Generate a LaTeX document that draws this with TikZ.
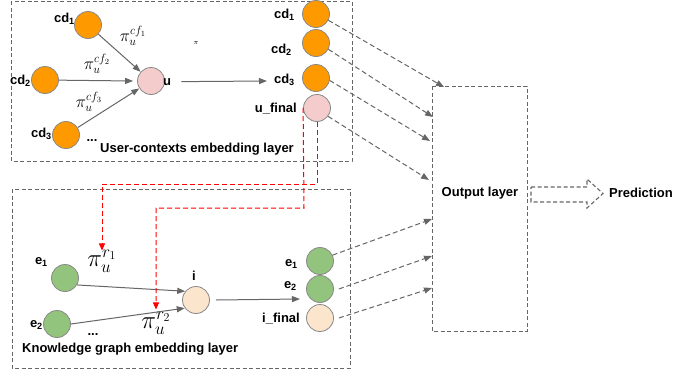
\documentclass[tikz,border=0pt]{standalone}
\usepackage{fontspec}
\setmainfont{Liberation Sans}
\usetikzlibrary{arrows.meta}
\definecolor{orangeF}{HTML}{FF9900}
\definecolor{pinkF}{HTML}{F4CCCC}
\definecolor{greenF}{HTML}{93C47D}
\definecolor{peachF}{HTML}{FCE5CD}
\definecolor{lineG}{HTML}{666666}
\definecolor{strokeG}{HTML}{888888}
\definecolor{redD}{HTML}{FF0000}
\tikzset{
  lab/.style={font=\fontsize{13}{15}\selectfont\bfseries, inner sep=0pt},
  ball/.style={circle, draw=strokeG, line width=0.8pt, minimum size=27pt, inner sep=0pt},
  orangeball/.style={ball, fill=orangeF},
  pinkball/.style={ball, fill=pinkF},
  greenball/.style={ball, fill=greenF},
  peachball/.style={ball, fill=peachF},
  solidarrow/.style={draw=lineG, line width=1pt, -{Triangle[length=8pt,width=6pt]}},
  dasharrow/.style={draw=lineG, line width=1pt, dash pattern=on 5pt off 3pt, -{Triangle[length=8pt,width=6pt]}},
  reddash/.style={draw=redD, line width=1pt, dash pattern=on 5pt off 3pt, -{Triangle[length=7pt,width=6pt]}},
  boxdash/.style={draw=lineG, line width=0.9pt, dash pattern=on 4pt off 2.5pt},
  pilab/.style={inner sep=0pt, font=\fontsize{17}{19}\selectfont},
  pibig/.style={inner sep=0pt, font=\fontsize{24}{27}\selectfont},
}
\begin{document}
\begin{tikzpicture}[x=1pt,y=-1pt]
\useasboundingbox (0,0) rectangle (676,375);
% boxes
\draw[boxdash] (11,1) rectangle (352,161);
\draw[boxdash] (12,189) rectangle (350,368);
\draw[boxdash] (432,86) rectangle (527,331);
\node[lab] (outlab) at (480,193) {Output layer};
\node[lab, anchor=base west] (pred) at (609,197) {Prediction};
\draw[boxdash, line width=1.1pt] (531,187) -- (587,187) -- (587,179) -- (603,193.5) -- (587,208) -- (587,202) -- (531,202) -- cycle;

% top left nodes
\node[orangeball] (lcd1) at (88,25) {};
\node[orangeball] (lcd2) at (45,80) {};
\node[orangeball] (lcd3) at (66,135) {};
\node[pinkball] (u) at (151,81) {};
\node[lab, anchor=base east] (lcd1lab) at (75,22) {cd\textsubscript{1}};
\node[lab, anchor=base east] (lcd2lab) at (31,84) {cd\textsubscript{2}};
\node[lab, anchor=base east] (lcd3lab) at (52,137) {cd\textsubscript{3}};
\node[lab, anchor=base west] (ulab) at (163,85) {u};
\node[pilab] (picf1) at (133,36) {$\pi_u^{cf_1}$};
\node[pilab] (picf2) at (97,64) {$\pi_u^{cf_2}$};
\node[pilab] (picf3) at (89,102) {$\pi_u^{cf_3}$};
\node[inner sep=0pt, font=\fontsize{7}{8}\selectfont] (pismall) at (196,43) {$\pi$};
\node[lab] (dots1) at (92,141) {...};
\node[lab, anchor=base west] (uclab) at (100,152) {User-contexts embedding layer};

% top right nodes
\node[orangeball] (rcd1) at (316,14) {};
\node[orangeball] (rcd2) at (316,43) {};
\node[orangeball] (rcd3) at (316,78) {};
\node[pinkball] (uf) at (317,108) {};
\node[lab, anchor=base east] (rcd1lab) at (295,18) {cd\textsubscript{1}};
\node[lab, anchor=base east] (rcd2lab) at (292,53) {cd\textsubscript{2}};
\node[lab, anchor=base east] (rcd3lab) at (295,83) {cd\textsubscript{3}};
\node[lab, anchor=base east] (uflab) at (297,112) {u\_final};

% bottom nodes
\node[greenball] (le1) at (65,278) {};
\node[greenball] (le2) at (57,324) {};
\node[peachball] (i) at (196,300) {};
\node[greenball] (re1) at (320,261) {};
\node[greenball] (re2) at (320,289) {};
\node[peachball] (if) at (320,318) {};
\node[lab, anchor=base east] (le1lab) at (48,264) {e\textsubscript{1}};
\node[lab, anchor=base east] (le2lab) at (43,327) {e\textsubscript{2}};
\node[lab, anchor=base] (ilab) at (194,280) {i};
\node[lab, anchor=base east] (re1lab) at (298,266) {e\textsubscript{1}};
\node[lab, anchor=base east] (re2lab) at (297,288) {e\textsubscript{2}};
\node[lab, anchor=base east] (iflab) at (300,322) {i\_final};
\node[lab] (dots2) at (93,335) {...};
\node[lab, anchor=base west] (kglab) at (22,352) {Knowledge graph embedding layer};
\node[pibig] (pir1) at (102,261) {$\pi_u^{r_1}$};
\node[pibig] (pir2) at (156,323) {$\pi_u^{r_2}$};

% coordinates
\coordinate (utip) at (267,81);
\coordinate (itip) at (300,299);
\coordinate (o1) at (444,87);
\coordinate (o2) at (433,117);
\coordinate (o3) at (430,141);
\coordinate (o4) at (429,180);
\coordinate (o5) at (432,219);
\coordinate (o6) at (432,256);
\coordinate (o7) at (432,288);

% solid arrows
\draw[solidarrow] (lcd1) -- (u);
\draw[solidarrow] (lcd2) -- ([xshift=-4pt]u.west);
\draw[solidarrow] (lcd3) -- (u);
\draw[solidarrow] ([xshift=10pt]ulab.east) -- (utip);
\draw[solidarrow] (le1.-30) -- (i.141);
\draw[solidarrow] (le2.east) -- (i.216);
\draw[solidarrow] ([xshift=6pt]i.east) -- (itip);

% dashed arrows to output
\draw[dasharrow] (rcd1.-27) -- (o1);
\draw[dasharrow] (rcd2.-27) -- (o2);
\draw[dasharrow] (rcd3.-10) -- (o3);
\draw[dasharrow] (uf.-37) -- (o4);
\draw[dasharrow] (re1.25) -- (o5);
\draw[dasharrow] ([xshift=5pt]re2.east) -- (o6);
\draw[dasharrow] ([xshift=5pt]if.east) -- (o7);

% red dashed
\draw[reddash] (uf.south) -- (317,184) -| ([yshift=-1pt]pir1.north);
\draw[reddash] (uf.west) -- (304,208) -| ([yshift=2pt]pir2.north);
\end{tikzpicture}
\end{document}
